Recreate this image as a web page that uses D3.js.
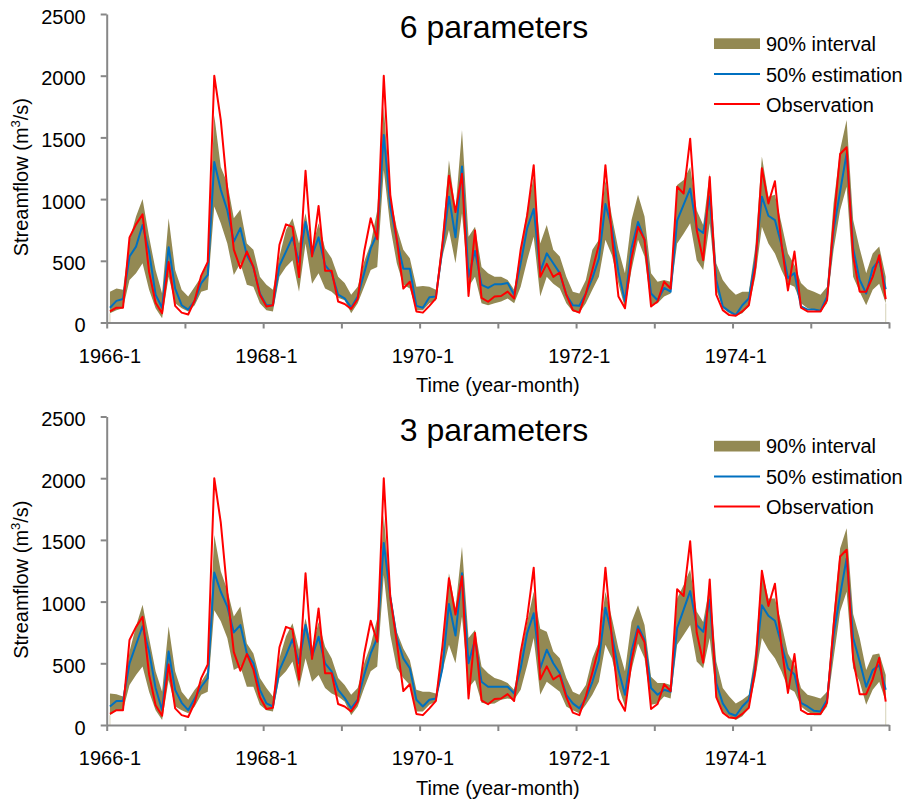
<!DOCTYPE html>
<html>
<head>
<meta charset="utf-8">
<script src="https://cdn.jsdelivr.net/npm/d3@7/dist/d3.min.js"></script>
<style>
  html, body { margin: 0; padding: 0; background: #fff; }
  svg { display: block; font-family: "Liberation Sans", Arial, sans-serif; }
</style>
</head>
<body>
<svg id="chart" width="912" height="801"></svg>
<script>
// Monthly categories, 1966-1 .. 1975-12
const months = d3.range(120).map(i => `${1966 + Math.floor(i / 12)}-${(i % 12) + 1}`);
const xTickLabels = ["1966-1", "1968-1", "1970-1", "1972-1", "1974-1"];
const yTicks = [0, 500, 1000, 1500, 2000, 2500];
const panelTitles = ["6 parameters", "3 parameters"];
const legendLabels = ["90% interval", "50% estimation", "Observation"];

// Observed streamflow (m3/s)
const observation = [
  90, 120, 120, 690, 795, 876, 410, 160, 75, 490, 135, 80,
  65, 180, 380, 490, 2000, 1640, 1075, 590, 440, 575, 450, 225,
  130, 140, 630, 795, 775, 368, 1230, 535, 945, 420, 420, 170,
  150, 110, 190, 575, 845, 675, 2000, 1035, 670, 275, 330, 90,
  80, 135, 195, 640, 1190, 895, 1205, 215, 745, 200, 168, 210,
  215, 250, 195, 590, 870, 1275, 370, 475, 370, 405, 225, 100,
  80, 235, 425, 630, 1275, 695, 210, 115, 520, 775, 670, 130,
  170, 330, 275, 1100, 1045, 1490, 750, 505, 1180, 225, 100, 60,
  55, 90, 140, 450, 1250, 965, 1145, 640, 260, 575, 120, 90,
  90, 90, 180, 805, 1365, 1420, 535, 250, 250, 370, 545, 190
];

// 6-parameter model: median and 90% bounds
const median6 = [
  120, 175, 190, 535, 615, 790, 575, 225, 120, 610, 275, 140,
  105, 175, 320, 385, 1300, 1075, 910, 655, 765, 545, 450, 235,
  140, 140, 460, 575, 690, 490, 815, 545, 690, 465, 400, 225,
  195, 120, 210, 400, 600, 720, 1520, 940, 670, 435, 435, 135,
  120, 205, 210, 600, 1020, 690, 1265, 370, 580, 305, 280, 310,
  310, 320, 225, 480, 765, 920, 410, 560, 480, 400, 225, 140,
  135, 235, 360, 520, 960, 765, 410, 170, 600, 815, 670, 235,
  180, 280, 250, 825, 955, 1085, 765, 725, 1020, 345, 130, 90,
  60, 140, 195, 505, 1020, 865, 830, 630, 360, 400, 130, 105,
  105, 95, 210, 750, 1060, 1370, 600, 345, 235, 440, 505, 270
];
const upper6 = [
  250, 275, 265, 670, 860, 1000, 695, 425, 235, 845, 425, 265,
  210, 290, 370, 480, 1680, 1260, 1130, 845, 915, 640, 590, 370,
  305, 265, 535, 750, 845, 640, 885, 600, 805, 600, 520, 370,
  320, 225, 290, 495, 640, 910, 1750, 1020, 765, 590, 520, 290,
  295, 290, 265, 695, 1315, 910, 1560, 695, 775, 450, 400, 370,
  370, 345, 265, 590, 910, 1180, 640, 790, 590, 535, 370, 250,
  235, 345, 590, 670, 1155, 860, 590, 400, 830, 1035, 860, 400,
  330, 345, 330, 1115, 1155, 1260, 910, 790, 1210, 480, 345, 275,
  225, 250, 250, 615, 1345, 1020, 1035, 805, 560, 465, 320, 270,
  250, 225, 290, 965, 1400, 1640, 830, 600, 400, 560, 615, 370
];
const lower6 = [
  75, 100, 115, 345, 400, 480, 265, 115, 35, 370, 155, 115,
  90, 140, 250, 265, 940, 805, 640, 385, 480, 305, 290, 155,
  100, 90, 370, 450, 505, 250, 640, 315, 400, 275, 250, 200,
  180, 75, 155, 290, 425, 450, 1235, 775, 480, 305, 275, 100,
  100, 155, 180, 535, 750, 480, 885, 290, 370, 155, 140, 155,
  170, 195, 155, 290, 505, 695, 210, 370, 315, 275, 155, 90,
  80, 155, 265, 370, 670, 545, 315, 115, 425, 670, 535, 140,
  155, 210, 235, 640, 720, 805, 505, 425, 805, 265, 115, 75,
  55, 75, 130, 370, 775, 640, 560, 425, 315, 290, 155, 115,
  105, 90, 155, 590, 910, 1100, 370, 250, 140, 265, 315, 155
];

// 3-parameter model: median and 90% bounds
const median3 = [
  150, 195, 195, 500, 650, 800, 595, 300, 120, 595, 285, 180,
  120, 215, 310, 380, 1235, 1080, 960, 750, 810, 580, 500, 285,
  175, 150, 445, 565, 695, 500, 810, 555, 715, 500, 435, 285,
  220, 135, 205, 405, 580, 705, 1475, 1040, 705, 540, 460, 205,
  150, 205, 215, 460, 980, 725, 1230, 500, 690, 350, 310, 310,
  310, 310, 255, 460, 745, 905, 460, 610, 500, 420, 245, 175,
  135, 215, 350, 525, 950, 730, 445, 245, 595, 800, 690, 300,
  245, 285, 270, 785, 935, 1085, 810, 755, 1015, 340, 175, 95,
  75, 150, 205, 485, 970, 885, 845, 655, 460, 410, 180, 150,
  115, 110, 205, 730, 1055, 1350, 705, 515, 310, 445, 485, 285
];
const upper3 = [
  255, 250, 230, 595, 800, 975, 705, 435, 270, 800, 435, 270,
  205, 285, 350, 435, 1540, 1245, 1095, 880, 960, 660, 580, 380,
  300, 230, 540, 720, 825, 610, 865, 620, 835, 635, 540, 380,
  325, 245, 300, 500, 650, 865, 1700, 1080, 755, 620, 525, 285,
  270, 270, 255, 580, 1230, 945, 1445, 705, 770, 475, 420, 380,
  365, 340, 285, 570, 835, 1080, 780, 755, 595, 540, 380, 270,
  245, 325, 540, 675, 1080, 865, 620, 435, 835, 970, 810, 390,
  340, 340, 325, 1025, 1135, 1260, 920, 835, 1135, 515, 300, 230,
  175, 205, 245, 595, 1255, 1025, 1025, 825, 580, 485, 300, 245,
  230, 215, 270, 890, 1430, 1595, 900, 705, 445, 570, 580, 405
];
const lower3 = [
  80, 120, 120, 325, 405, 475, 270, 120, 40, 365, 150, 120,
  95, 150, 245, 270, 930, 840, 705, 445, 475, 310, 310, 165,
  120, 110, 380, 435, 515, 300, 540, 350, 405, 300, 255, 230,
  190, 80, 150, 300, 435, 475, 1215, 730, 460, 380, 325, 110,
  110, 165, 190, 435, 650, 500, 880, 300, 365, 180, 170, 175,
  205, 215, 205, 285, 485, 705, 245, 350, 310, 270, 150, 120,
  95, 165, 245, 350, 650, 540, 310, 150, 445, 660, 540, 165,
  175, 230, 215, 650, 730, 810, 515, 460, 705, 230, 110, 70,
  40, 70, 135, 380, 705, 610, 540, 435, 300, 270, 150, 110,
  80, 80, 150, 540, 920, 1080, 460, 350, 165, 285, 350, 190
];

const panels = [
  { title: panelTitles[0], lower: lower6, median: median6, upper: upper6, top: 0 },
  { title: panelTitles[1], lower: lower3, median: median3, upper: upper3, top: 402.5 }
];

const COLORS = { band: "#938953", median: "#0070C0", obs: "#FF0000", axis: "#878787", text: "#000" };
const plot = { left: 106.7, right: 889, top: 14, bottom: 322.5 };

const svg = d3.select("#chart");

// Shared scales: categories laid out between tick marks
const x = d3.scaleBand().domain(months).range([plot.left, plot.right]).paddingInner(0).paddingOuter(0);
const xc = m => x(m) + x.bandwidth() / 2;
const xTicksScale = d3.scaleLinear().domain([0, months.length]).range([plot.left, plot.right]);
const y = d3.scaleLinear().domain([0, 2500]).range([plot.bottom, plot.top]);

panels.forEach(p => {
  const g = svg.append("g").attr("transform", `translate(0,${p.top})`);

  const rows = months.map((m, i) => ({
    m, lo: p.lower[i], med: p.median[i], hi: p.upper[i], obs: observation[i]
  }));

  // 90% interval band
  const area = d3.area().x(d => xc(d.m)).y0(d => y(d.lo)).y1(d => y(d.hi));
  g.append("path").datum(rows).attr("d", area).attr("fill", COLORS.band);

  // faint edges of the stacked area at both ends
  [rows[0], rows[rows.length - 1]].forEach(d => {
    g.append("line")
      .attr("x1", xc(d.m)).attr("x2", xc(d.m))
      .attr("y1", y(0)).attr("y2", y(d.lo))
      .attr("stroke", "#d6d2b8").attr("stroke-width", 1);
  });

  // median estimate and observation lines
  const lineMed = d3.line().x(d => xc(d.m)).y(d => y(d.med));
  const lineObs = d3.line().x(d => xc(d.m)).y(d => y(d.obs));
  g.append("path").datum(rows).attr("d", lineMed)
    .attr("fill", "none").attr("stroke", COLORS.median).attr("stroke-width", 2).attr("stroke-linejoin", "round");
  g.append("path").datum(rows).attr("d", lineObs)
    .attr("fill", "none").attr("stroke", COLORS.obs).attr("stroke-width", 2).attr("stroke-linejoin", "round");

  // y axis
  const yAxis = g.append("g").attr("transform", `translate(${plot.left},0)`)
    .call(d3.axisLeft(y).tickValues(yTicks).tickSize(6).tickSizeOuter(0).tickPadding(15).tickFormat(d3.format("d")));
  yAxis.select(".domain").attr("stroke", COLORS.axis).attr("stroke-width", 2);
  yAxis.selectAll(".tick line").attr("stroke", COLORS.axis).attr("stroke-width", 2);
  yAxis.selectAll(".tick text").attr("font-size", 20).attr("fill", COLORS.text).attr("dy", "0.45em");

  // x axis: tick marks every 12 months
  const xAxis = g.append("g").attr("transform", `translate(0,${plot.bottom})`)
    .call(d3.axisBottom(xTicksScale).tickValues(d3.range(0, months.length + 1, 12)).tickSize(6).tickSizeOuter(0).tickFormat(""));
  xAxis.select(".domain").attr("stroke", COLORS.axis).attr("stroke-width", 2);
  xAxis.selectAll(".tick line").attr("stroke", COLORS.axis).attr("stroke-width", 2);

  // x labels on category centers
  const xLab = g.append("g").attr("transform", `translate(0,${plot.bottom})`)
    .call(d3.axisBottom(x).tickValues(xTickLabels).tickSize(0).tickPadding(26));
  xLab.select(".domain").remove();
  xLab.selectAll(".tick text").attr("font-size", 20).attr("fill", COLORS.text);

  // axis titles
  g.append("text").attr("x", (plot.left + plot.right) / 2).attr("y", 392)
    .attr("text-anchor", "middle").attr("font-size", 20).attr("fill", COLORS.text)
    .text("Time (year-month)");
  const yt = g.append("text").attr("transform", "translate(28,98) rotate(-90)")
    .attr("text-anchor", "end").attr("font-size", 20).attr("fill", COLORS.text);
  yt.append("tspan").text("Streamflow (m");
  yt.append("tspan").attr("font-size", 13).attr("dy", -8).text("3");
  yt.append("tspan").attr("dy", 8).text("/s)");

  // panel title
  g.append("text").attr("x", 494).attr("y", 38).attr("text-anchor", "middle")
    .attr("font-size", 32).attr("fill", COLORS.text).text(p.title);

  // legend
  const lg = g.append("g");
  lg.append("rect").attr("x", 714).attr("y", 38.3).attr("width", 46).attr("height", 10.7).attr("fill", COLORS.band);
  lg.append("line").attr("x1", 714).attr("x2", 760).attr("y1", 74).attr("y2", 74)
    .attr("stroke", COLORS.median).attr("stroke-width", 2);
  lg.append("line").attr("x1", 714).attr("x2", 760).attr("y1", 104).attr("y2", 104)
    .attr("stroke", COLORS.obs).attr("stroke-width", 2);
  [50.7, 81.7, 111.7].forEach((by, k) => {
    lg.append("text").attr("x", 766).attr("y", by).attr("font-size", 20).attr("fill", COLORS.text).text(legendLabels[k]);
  });
});
</script>
</body>
</html>
